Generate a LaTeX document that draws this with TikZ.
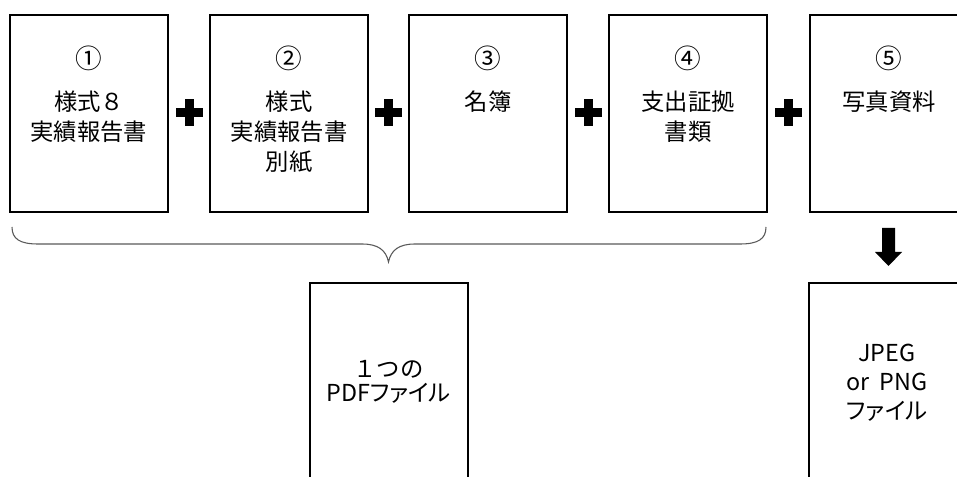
\documentclass[tikz,border=0pt]{standalone}
\usepackage{fontspec}
\setmainfont{Noto Sans CJK JP}
\newfontfamily\kanafont[RawFeature=+palt]{Noto Sans CJK JP}
\begin{document}
\begin{tikzpicture}[x=0.75pt,y=-0.75pt,
  doc/.style={draw=black, line width=1.5pt, minimum width=118.5pt, minimum height=147.75pt, inner sep=0pt},
  lowdoc/.style={draw=black, line width=1.5pt, minimum width=118.5pt, minimum height=162.75pt, inner sep=0pt},
  txt/.style={font=\fontsize{17.5}{22.5}\selectfont, align=center, inner sep=0pt, text=black},
  num/.style={font=\fontsize{20}{22.5}\selectfont, inner sep=0pt, text=black},
  plusbar/.style={fill=black},
  bracestyle/.style={draw=black!65, line width=0.8pt}]
\clip (0,0) rectangle (957,477);
% top boxes
\node[doc] (b1) at (89,113.5) {};
\node[doc] (b2) at (289,113.5) {};
\node[doc] (b3) at (488,113.5) {};
\node[doc] (b4) at (688,113.5) {};
\node[doc] (b5) at (889,113.5) {};
% numbers
\node[num] (n1) at (89,58) {①};
\node[num] (n2) at (289,58) {②};
\node[num] (n3) at (488,58) {③};
\node[num] (n4) at (688,58) {④};
\node[num] (n5) at (889,58) {⑤};
% labels
\node[txt] (t1) at (89,117) {様式８\\実績報告書};
\node[txt] (t2) at (289,132) {様式\\実績報告書\\別紙};
\node[txt] (t3) at (488,102) {名簿};
\node[txt] (t4) at (688,117) {支出証拠\\書類};
\node[txt] (t5) at (889,102) {写真資料};
% plus signs
\foreach \cx in {189.5,388.5,588.5,788} {
  \fill[plusbar] (\cx-13.5,108.5) rectangle (\cx+13.5,117.5);
  \fill[plusbar] (\cx-4.5,99.5) rectangle (\cx+4.5,126.5);
}
% brace
\draw[bracestyle] (12,227) .. controls (12,239) and (20,244) .. (38,244)
  -- (362,244) .. controls (378,244) and (386,250) .. (388.5,262)
  .. controls (391,250) and (399,244) .. (415,244)
  -- (740,244) .. controls (758,244) and (766,239) .. (766,227);
% arrow
\fill[black] (882,228) -- (895,228) -- (895,252) -- (902,252) -- (888.5,266)
  -- (875,252) -- (882,252) -- cycle;
% bottom boxes
\node[lowdoc] (pdf) at (388.5,391.5) {};
\node[lowdoc] (img) at (888,391.5) {};
\node[txt, font=\fontsize{17.5}{18}\selectfont] (tpdf) at (388.5,382) {１つの\\{\kanafont PDFファイル}};
\node[txt, font=\kanafont\fontsize{17.5}{21.75}\selectfont] (timg) at (887,383) {JPEG\\or~~PNG\\ファイル};
\end{tikzpicture}
\end{document}
